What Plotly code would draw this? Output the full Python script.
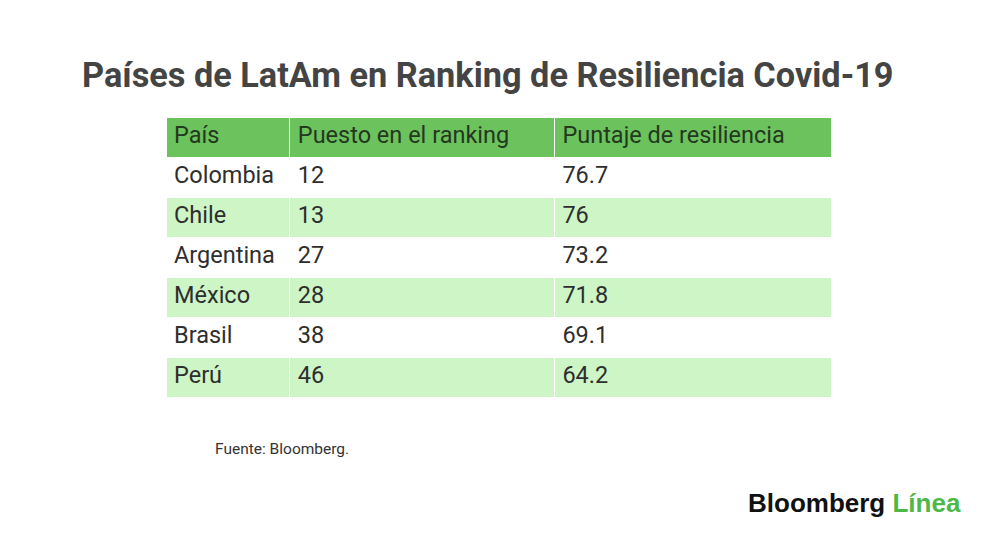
import plotly.graph_objects as go

paises = ["Colombia", "Chile", "Argentina", "México", "Brasil", "Perú"]
puestos = ["12", "13", "27", "28", "38", "46"]
puntajes = ["76.7", "76", "73.2", "71.8", "69.1", "64.2"]
encabezados = ["País", "Puesto en el ranking", "Puntaje de resiliencia"]

W, H = 1000, 539
OFF = 8  # body margin of the html page


def px(x):
    return (x - OFF) / W


def py(y):
    return 1 - (y - OFF) / H


row_colors = ["#ffffff" if i % 2 == 0 else "#cdf5c6" for i in range(len(paises))]

fig = go.Figure(go.Table(
    domain=dict(x=[px(166), px(832)], y=[0, py(117)]),
    columnwidth=[124, 265, 277],
    header=dict(values=encabezados, fill_color="#6cc25c", align="left",
                line=dict(color="white", width=1), height=40,
                font=dict(family="Roboto", size=23.5, color="#23381f")),
    cells=dict(values=[paises, puestos, puntajes], fill_color=[row_colors] * 3,
               align="left", line=dict(color="white", width=1), height=40,
               font=dict(family="Roboto", size=23.5, color="#2e2e2e")),
))

fig.update_layout(
    width=W, height=H, margin=dict(l=0, r=0, t=0, b=0),
    paper_bgcolor="white",
    font=dict(family="Roboto"),
    annotations=[
        dict(text="<b>Países de LatAm en Ranking de Resiliencia Covid-19</b>",
             x=px(488), y=py(75), xref="paper", yref="paper", showarrow=False,
             font=dict(size=34.3, color="#444444"), xanchor="center", yanchor="middle"),
        dict(text="Fuente: Bloomberg.", x=px(213), y=py(449), xref="paper", yref="paper",
             showarrow=False, xanchor="left", yanchor="middle",
             font=dict(size=15.5, color="#333333")),
        dict(text="<b>Bloomberg</b> <b><span style='color:#4cb848'>Línea</span></b>",
             x=px(746), y=py(503), xref="paper", yref="paper", showarrow=False,
             xanchor="left", yanchor="middle",
             font=dict(family="Liberation Sans", size=26, color="#111111")),
    ],
)

fig.write_html("out.html")
